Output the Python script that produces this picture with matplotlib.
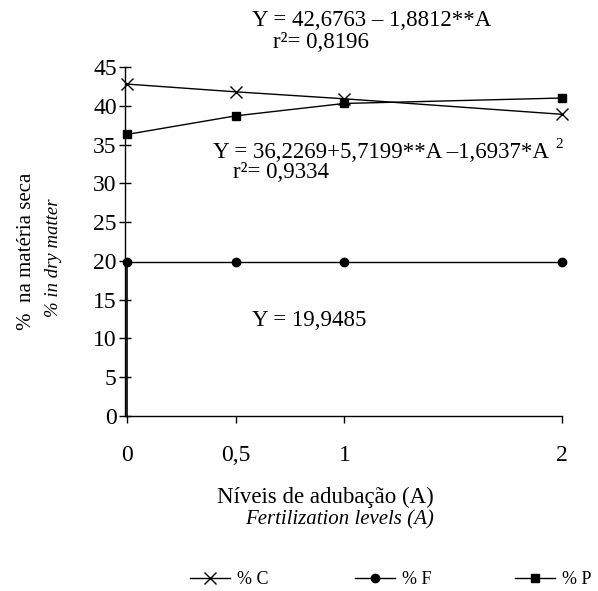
import numpy as np
import matplotlib.pyplot as plt

plt.rcParams['font.family'] = ['Liberation Serif', 'DejaVu Serif']

# dados
niveis = [0, 0.5, 1, 2]
niveis_lab = ["0", "0,5", "1", "2"]
pc = [42.8, 41.8, 40.9, 38.9]
pf = [19.9, 19.9, 19.9, 19.9]
pp = [36.3, 38.7, 40.3, 41.0]
yticks = [0, 5, 10, 15, 20, 25, 30, 35, 40, 45]

W, H = 598, 591
fig = plt.figure(figsize=(W/100, H/100), dpi=100)
ax = fig.add_axes([125/W, 1-416/H, (562-125)/W, (416-67)/H])

lc, = ax.plot(niveis, pc, "k-", marker="x", ms=9, mew=1.0, lw=1.0, clip_on=False)
lf, = ax.plot(niveis, pf, "k-", marker="o", ms=6, lw=1.0, clip_on=False)
lp, = ax.plot(niveis, pp, "k-", marker="s", ms=6, lw=1.0, clip_on=False)
ax.vlines(niveis[0], 0, pf[0], color="k", lw=1.2)

ax.set_xlim(-0.008, 2)
ax.set_ylim(0, 45)
ax.set_xticks(niveis)
ax.set_xticklabels(niveis_lab)
ax.set_yticks(yticks)
for s in ["top", "right"]:
    ax.spines[s].set_visible(False)
for s in ["left", "bottom"]:
    ax.spines[s].set_linewidth(1.0)
ax.tick_params(axis="x", direction="out", length=5, width=1.0, labelsize=17, pad=16)
ax.tick_params(axis="y", direction="inout", length=8, width=1.0, labelsize=17, pad=2)

# equacoes
fig.text(252/W, 1-20/H, "Y = 42,6763 – 1,8812**A", fontsize=16.5, va="center")
fig.text(273/W, 1-43/H, "r²= 0,8196", fontsize=16.5, va="center")
fig.text(213/W, 1-152/H, "Y = 36,2269+5,7199**A –1,6937*A", fontsize=16.5, va="center")
fig.text(555/W, 1-144/H, "2", fontsize=11, va="center")
fig.text(233/W, 1-173/H, "r²= 0,9334", fontsize=16.5, va="center")
fig.text(252/W, 1-320/H, "Y = 19,9485", fontsize=16.5, va="center")

# titulos dos eixos
fig.text(27/W, 1-251/H, "%  na matéria seca", fontsize=15, rotation=90, ha="center", va="center")
fig.text(53/W, 1-258/H, "% in dry matter", fontsize=13.5, style="italic", rotation=90, ha="center", va="center")
fig.text(434/W, 1-497/H, "Níveis de adubação (A)", fontsize=16.5, ha="right", va="center")
fig.text(434/W, 1-520/H, "Fertilization levels (A)", fontsize=15, style="italic", ha="right", va="center")

# legenda em tres partes
for h, lab, x0 in [(lc, "% C", 190), (lf, "% F", 355), (lp, "% P", 515)]:
    fig.legend([h], [lab], loc="center left", bbox_to_anchor=(x0/W, 1-580/H),
               frameon=False, fontsize=13, handlelength=2.2, handletextpad=0.4,
               borderpad=0, borderaxespad=0)

plt.savefig("out.png", dpi=100)
